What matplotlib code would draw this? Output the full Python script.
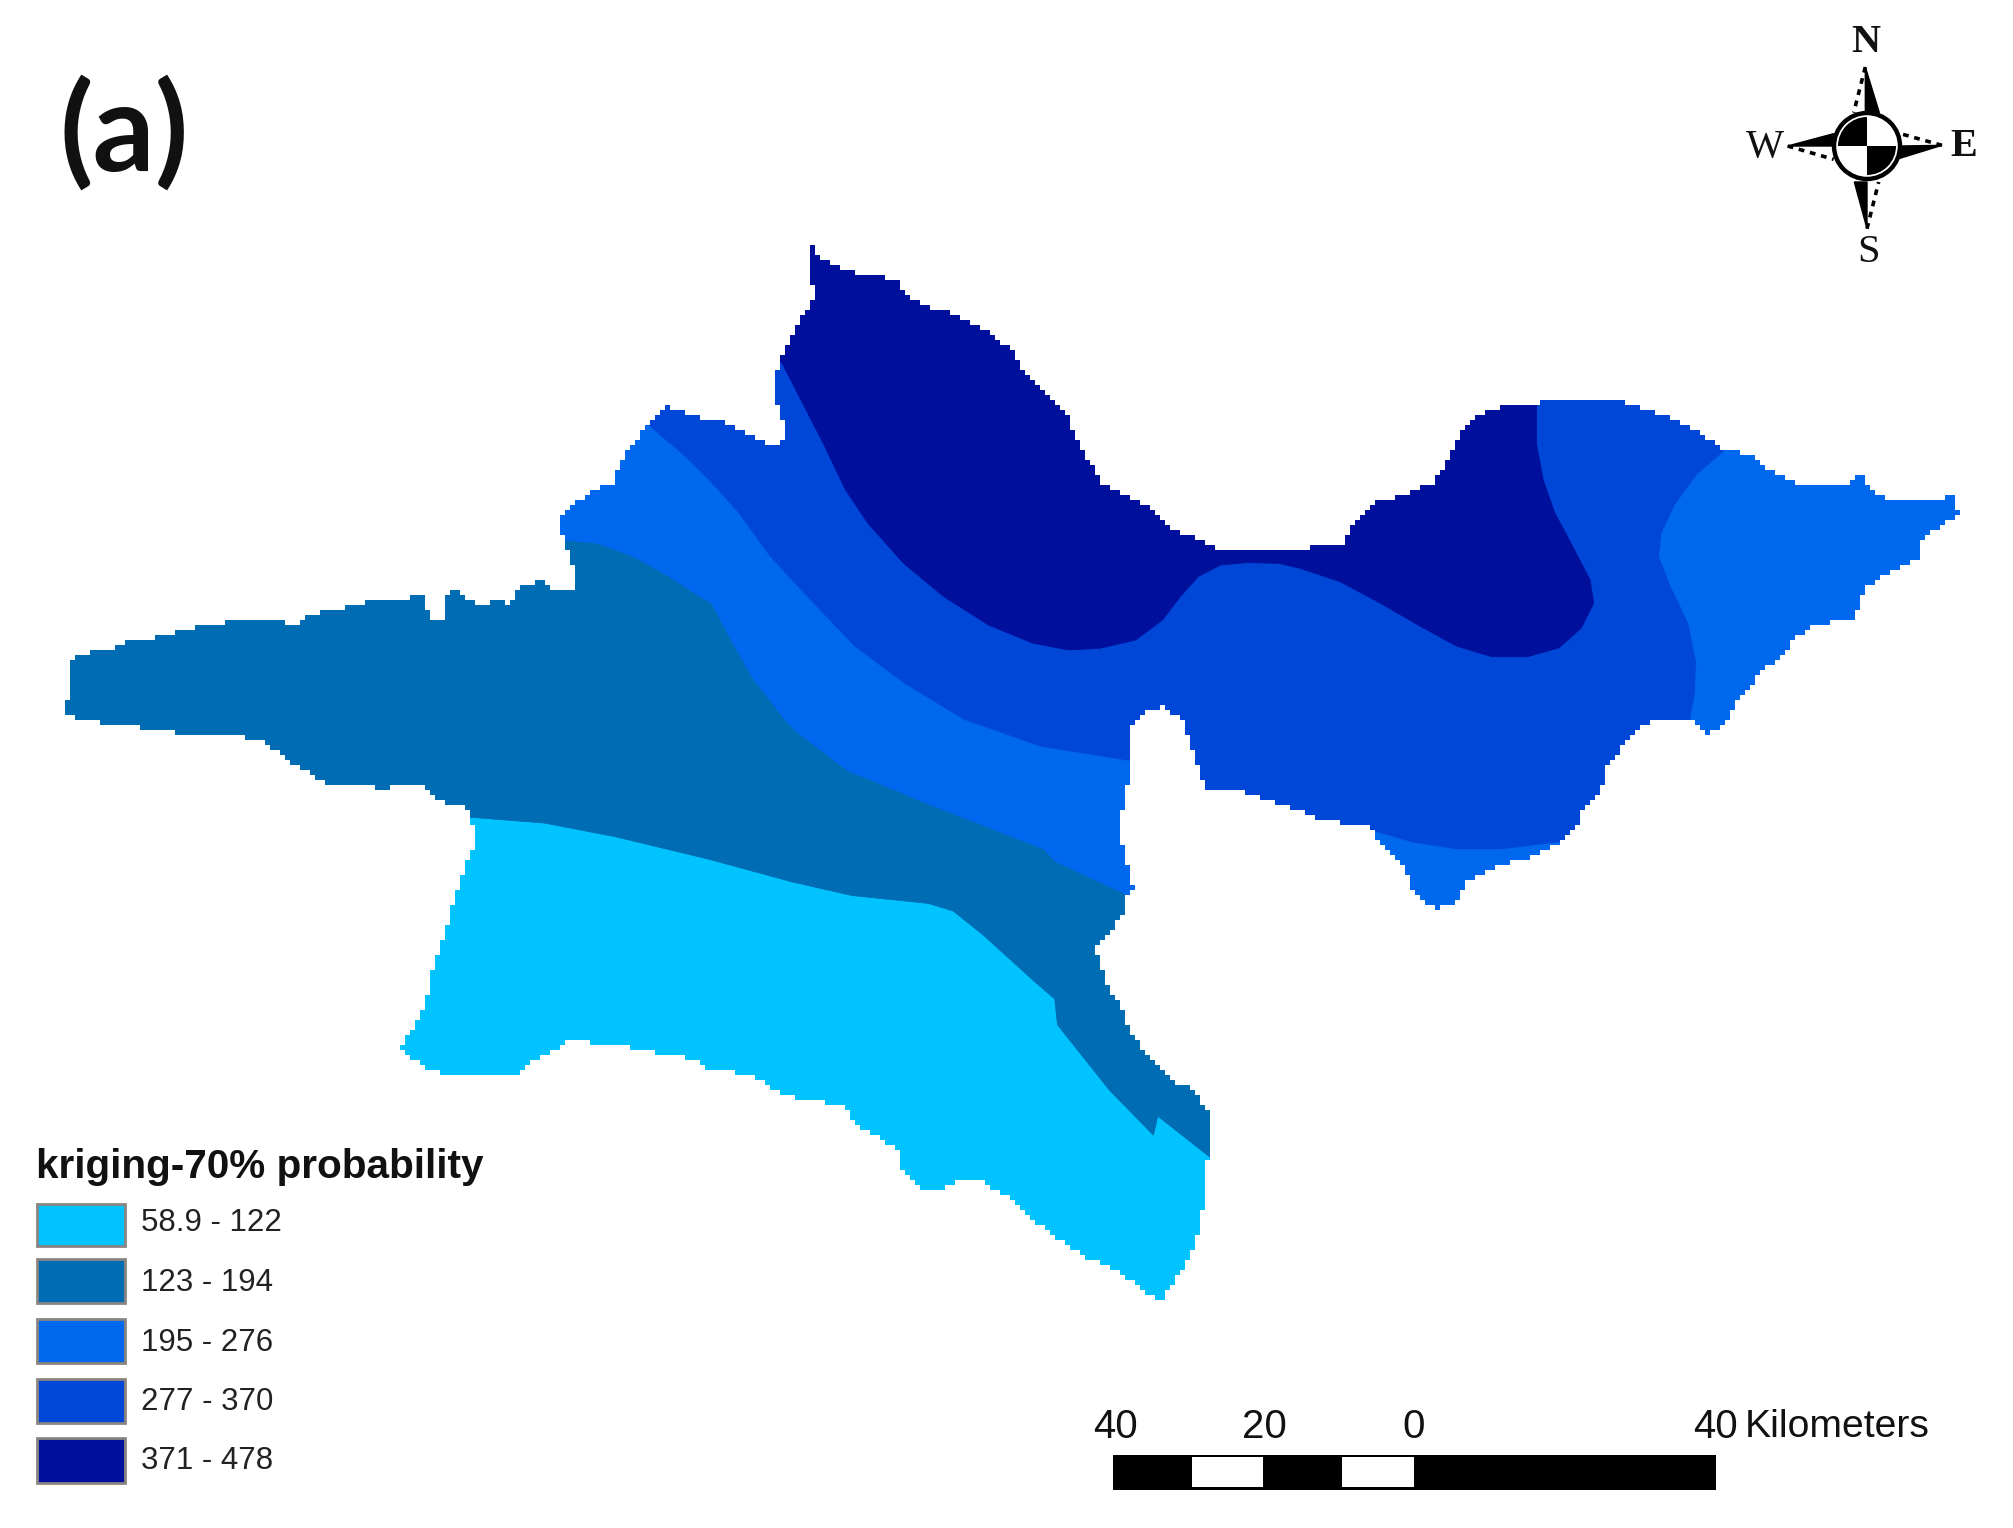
import numpy as np
import matplotlib
matplotlib.use("Agg")
import matplotlib.pyplot as plt
from matplotlib.patches import Polygon, Rectangle, Circle, Wedge

plt.rcParams['font.family'] = ['Liberation Sans', 'DejaVu Sans']

def frame(pts, x0, y0, fx, fy):
    return [(x0 + a / fx, y0 + b / fy) for a, b in pts]
def north(pts): return frame(pts, 600, 220, 2.24, 3)
def east(pts):  return frame(pts, 1300, 380, 2.24, 2.8)
def south(pts): return frame(pts, 380, 780, 1.823, 2.9)
def west(pts):  return frame(pts, 0, 400, 2.24, 3)

edge_n1 = [(470,75),(500,118),(540,145),(570,158),(625,162),(665,185),(690,232),(730,258),(780,278),(850,318),(885,350),(925,395),(945,450),(1005,525),(1045,575),(1060,640),(1090,710),(1125,790),(1170,825),(1240,870),(1280,925),(1340,960),(1385,988),(1430,995),(1520,985),(1568,997)]
edge_e = [(0,482),(30,465),(100,455),(120,400),(165,345),(240,320),(300,285),(330,225),(355,170),(370,130),(415,85),(480,68),(535,65),(545,52),(690,52),(750,70),(850,115),(950,195),(1000,205),(1060,260),(1130,297),(1230,295),(1258,255),(1265,295),(1310,333),(1400,332),(1465,328),(1475,375),(1395,445),(1390,495),(1320,540),(1262,585),(1258,630),(1235,670),(1150,688),(1105,725),(1090,770),(1050,800),(1020,840),(985,890),(945,975),(910,992),(875,950),(810,950),(778,960),(745,990),(715,1040),(685,1085),(675,1150),(630,1210),(625,1240),(580,1295),(500,1345),(440,1360),(375,1405),(350,1460),(310,1480),(280,1470),(245,1410),(240,1380),(180,1290),(145,1243),(105,1240),(50,1235),(10,1210),(0,1205)]
edge_inlet = [(1240,790),(1208,789),(1203,780),(1195,758),(1182,720),(1163,707),(1144,711),(1128,733)]
edge_s = [(1365,0),(1360,50),(1345,145),(1360,210),(1365,290),(1380,312),(1355,345),(1360,385),(1335,430),(1305,485),(1310,530),(1330,610),(1350,650),(1370,740),(1400,800),(1440,870),(1480,895),(1510,960),(1514,1095),(1505,1110),(1505,1210),(1490,1320),(1475,1390),(1450,1450),(1425,1515),(1385,1470),(1350,1430),(1290,1385),(1230,1325),(1190,1270),(1150,1215),(1100,1165),(1055,1160),(1015,1195),(985,1180),(950,1130),(945,1070),(880,1010),(840,940),(780,930),(725,905),(680,855),(600,840),(570,808),(520,795),(475,785),(435,768),(345,755),(315,790),(265,825),(258,855),(220,862),(135,855),(90,840),(35,780),(50,745),(85,640),(90,590),(100,520),(125,410),(140,320),(155,255),(175,175),(165,105)]
edge_w = [(1055,1250),(1050,1235),(1030,1215),(990,1205),(950,1160),(875,1158),(870,1175),(838,1175),(835,1158),(750,1158),(715,1135),(680,1105),(640,1078),(600,1030),(550,1018),(548,1002),(395,1002),(390,988),(312,985),(310,968),(228,968),(225,953),(175,953),(140,935),(150,897),(165,890),(150,825),(160,780),(190,758),(235,755),(280,725),(345,712),(385,700),(435,683),(510,665),(665,668),(690,645),(750,628),(830,602),(915,600),(920,585),(950,585),(955,625),(970,660),(992,660),(995,585),(1030,570),(1040,600),(1075,612),(1120,600),(1140,612),(1165,565),(1195,545),(1225,545),(1235,568),(1285,565),(1290,515),(1270,450),(1265,410),(1255,400),(1260,350),(1275,318),(1300,300),(1340,265),(1370,255),(1385,200),(1405,150),(1440,95),(1480,25),(1500,20),(1510,35),(1540,38),(1568,52)]
edge_n2 = [(260,597),(300,620),(355,660),(390,675),(410,665),(412,610),(395,545),(395,450),(420,370),(445,310),(465,265),(480,235),(478,190),(468,185),(468,100)]

dark_n = [(408,430),(450,540),(500,670),(550,810),(600,910),(680,1030),(770,1130),(870,1215),(970,1270),(1050,1290),(1120,1285),(1200,1260),(1260,1200),(1300,1130),(1340,1070),(1390,1035),(1450,1028),(1520,1030),(1568,1045)]
dark_e = [(0,527),(90,565),(180,625),(270,690),(350,745),(430,775),(510,775),(580,750),(630,695),(658,625),(650,560),(600,440),(570,370),(545,280),(530,180),(530,65)]
mid_n = [(115,625),(190,710),(250,790),(310,880),(380,1010),(470,1140),(570,1280),(680,1390),(815,1500)]
mid_tail = [(1041,747),(1128,761)]
teal_w = [(1265,420),(1340,430),(1420,470),(1500,530)]
teal_n = [(224,1130),(250,1150),(290,1250),(340,1370),(415,1500)]
teal_mid = [(797,732),(848,771)]
teal_s = [(895,0),(1000,70),(1210,200),(1230,235),(1365,335)]
cyan_s = [(165,108),(300,125),(430,165),(600,230),(750,295),(860,335),(1000,358),(1045,380),(1100,450),(1190,580),(1230,635),(1235,710),(1330,900),(1410,1030),(1418,975),(1514,1095)]
east_patch = [(950,200),(890,265),(840,350),(810,430),(805,495),(830,575),(870,680),(888,790),(885,880),(875,945),(900,1100),(1568,1100),(1568,100),(1000,100)]
south_patch = [(130,1262),(160,1262),(250,1295),(350,1315),(450,1315),(580,1295),(620,1320),(600,1540),(100,1540)]

zone_labels = ["58.9 - 122", "123 - 194", "195 - 276", "277 - 370", "371 - 478"]
zone_colors = ["#00C3FF", "#006CB3", "#0068EE", "#0047D8", "#000F9C"]
legend_title = "kriging-70% probability"
scale_labels = ["40", "20", "0", "40"]
scale_unit = "Kilometers"
panel_label = "(a)"

def stairs(pts, cell=5.0):
    """Give the traced boundary the blocky raster edge of the source grid."""
    pts = np.array(pts + [pts[0]], float)
    out = []
    for p, q in zip(pts[:-1], pts[1:]):
        n = max(2, int(np.hypot(*(q - p))))
        for t in np.linspace(0, 1, n, endpoint=False):
            g = tuple(np.round((p + t * (q - p)) / cell) * cell)
            if not out or g != out[-1]:
                if out and g[0] != out[-1][0] and g[1] != out[-1][1]:
                    out.append((g[0], out[-1][1]))
                out.append(g)
    return out

outline = north(edge_n1) + east(edge_e) + edge_inlet + south(edge_s) + west(edge_w) + north(edge_n2)
teal_line = west(teal_w) + north(teal_n) + teal_mid + south(teal_s)
cyan_line = south(cyan_s)
mid_line = north(mid_n) + mid_tail

zone_cyan = cyan_line + [(1260,1158),(1260,1340),(380,1340),(380,1000),(440,840)]
zone_teal = teal_line + [(1160,915),(1300,1000),(1300,1158)] + cyan_line[::-1] + [(440,840),(0,840),(0,500),(548,500),(548,533)]
zone_mid = mid_line + [(1160,761),(1160,915)] + teal_line[::-1] + [(548,533),(548,480),(640,415)]
zone_dark = north(dark_n) + east(dark_e) + [(1537,300),(1000,180),(770,200),(770,355)]

fig = plt.figure(figsize=(20.13, 15.28), dpi=100, facecolor="white")
ax = fig.add_axes([0, 0, 1, 1], facecolor="none")
ax.set_xlim(0, 2013)
ax.set_ylim(1528, 0)
ax.axis("off")

base = Polygon(stairs(outline), closed=True, facecolor=zone_colors[3], edgecolor="none", zorder=1)
ax.add_patch(base)
for pts, col in [(zone_cyan, zone_colors[0]), (zone_teal, zone_colors[1]), (zone_mid, zone_colors[2]),
                 (east(east_patch), zone_colors[2]), (east(south_patch), zone_colors[2]), (zone_dark, zone_colors[4])]:
    p = Polygon(pts, closed=True, facecolor=col, edgecolor=col, lw=0.5, zorder=2)
    ax.add_patch(p)
    p.set_clip_path(base)

ax.text(60, 134, panel_label, fontsize=88, fontweight="bold", family=["Lato", "DejaVu Sans"],
        ha="left", va="center", color="#111111")

# Legend
ax.text(36, 1167, legend_title, fontsize=29.2, fontweight="bold", ha="left", va="center", color="#111111")
sw_top = [1204, 1259, 1319, 1379, 1438]
sw_bot = [1246, 1303, 1363, 1423, 1483]
lab_y = [1223, 1283, 1343, 1402, 1461]
for lab, col, t, b, y in zip(zone_labels, zone_colors, sw_top, sw_bot, lab_y):
    ax.add_patch(Rectangle((37, t), 88, b - t, facecolor=col, edgecolor="#8a8580", lw=2))
    ax.text(141, y, lab, fontsize=22.5, ha="left", va="center", color="#222222")

# Scale bar
ax.add_patch(Rectangle((1113, 1455), 603, 35, facecolor="black", edgecolor="none"))
for x0, x1 in [(1192, 1263), (1342, 1414)]:
    ax.add_patch(Rectangle((x0, 1457), x1 - x0, 30, facecolor="white", edgecolor="none"))
for lab, x in zip(scale_labels, [1115, 1264, 1414, 1715]):
    ax.text(x, 1427, lab, fontsize=29, ha="center", va="center", color="#111111")
ax.text(1745, 1427, scale_unit, fontsize=28.2, ha="left", va="center", color="#111111")

# North arrow
cx, cy = 1867, 146
def rel(pts):
    return [(cx + a / 3, cy + b / 3) for a, b in pts]
for tri in [[(-5,-237),(37,-100),(-5,-100)], [(0,248),(-38,108),(0,108)],
            [(225,-2),(95,38),(100,0)], [(-238,0),(-100,-37),(-100,0)]]:
    ax.add_patch(Polygon(rel(tri), closed=True, facecolor="black", edgecolor="black", lw=1.0))
for seg in [[(-5,-237),(-40,-100)], [(0,248),(35,108)], [(225,-2),(100,-37)], [(-238,0),(-100,40)]]:
    (x0, y0), (x1, y1) = rel(seg)
    ax.plot([x0, x1], [y0, y1], color="black", lw=2.6, ls=(0, (1.6, 1.6)))
ax.add_patch(Circle((cx, cy), 33, facecolor="white", edgecolor="black", lw=3.2, zorder=3))
ax.add_patch(Wedge((cx, cy), 29, 0, 90, facecolor="black", edgecolor="none", zorder=4))
ax.add_patch(Wedge((cx, cy), 29, 180, 270, facecolor="black", edgecolor="none", zorder=4))
serif = ["Liberation Serif", "DejaVu Serif"]
for t, x, y in [("N", 1866, 42), ("S", 1868, 252), ("W", 1765, 147), ("E", 1964, 146)]:
    ax.text(x, y, t, fontsize=29, family=serif, fontweight="bold" if t in "NE" else "normal",
            ha="center", va="center", color="#111111")

fig.savefig("out.png", dpi=100, facecolor="white")
